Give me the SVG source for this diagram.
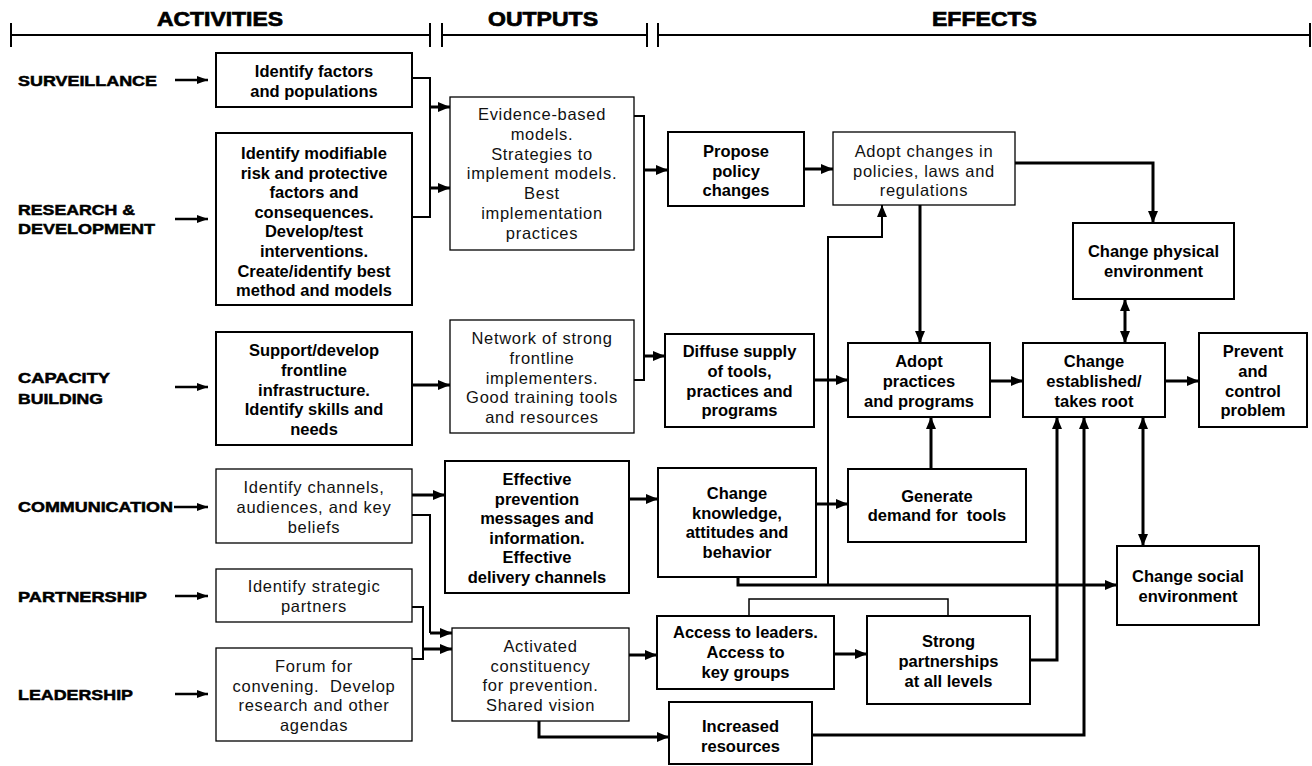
<svg xmlns="http://www.w3.org/2000/svg" width="1312" height="766" viewBox="0 0 1312 766">
  <style>
    .hd { font-family: "Liberation Sans", Arial, sans-serif; font-weight: bold; font-size: 20px; stroke: #000; stroke-width: 0.7; }
    .lb { font-family: "Liberation Sans", Arial, sans-serif; font-weight: bold; font-size: 15px; stroke: #000; stroke-width: 0.5; }
    .b { font-family: "Liberation Sans", Arial, sans-serif; font-weight: bold; font-size: 16.5px; text-anchor: middle; fill: #000; white-space: pre; }
    .r { font-family: "Liberation Sans", Arial, sans-serif; font-size: 16.5px; letter-spacing: 0.7px; text-anchor: middle; fill: #111; }
    .bx { fill: #fff; stroke: #000; stroke-width: 2; }
    .rx { fill: #fff; stroke: #000; stroke-width: 1.3; }
    .scale { fill: none; stroke: #000; stroke-width: 2; }
    .c { fill: none; stroke: #000; stroke-width: 3; }
    .m { fill: none; stroke: #000; stroke-width: 2; }
    .t { fill: none; stroke: #000; stroke-width: 1.5; }
    .a { marker-end: url(#ah); }
    .d { marker-start: url(#ahs); marker-end: url(#ah); }
    .la { fill: none; stroke: #000; stroke-width: 2.5; marker-end: url(#ahl); }
  </style>
  <defs>
    <marker id="ah" markerUnits="userSpaceOnUse" markerWidth="12" markerHeight="10" refX="12" refY="5" orient="auto">
      <path d="M0,0 L12,5 L0,10 z" fill="#000"/>
    </marker>
    <marker id="ahs" markerUnits="userSpaceOnUse" markerWidth="12" markerHeight="10" refX="12" refY="5" orient="auto-start-reverse">
      <path d="M0,0 L12,5 L0,10 z" fill="#000"/>
    </marker>
    <marker id="ahl" markerUnits="userSpaceOnUse" markerWidth="11" markerHeight="8" refX="11" refY="4" orient="auto">
      <path d="M0,0 L11,4 L0,8 z" fill="#000"/>
    </marker>
  </defs>

  <!-- column scale -->
  <g id="scale">
    <path class="scale" d="M11,35 H430 M11,23 V47 M430,23 V47 M442,35 H647 M442,23 V47 M647,23 V47 M658,35 H1310 M658,23 V47 M1310,23 V47"/>
    <text class="hd" x="157" y="26" textLength="126" lengthAdjust="spacingAndGlyphs">ACTIVITIES</text>
    <text class="hd" x="488" y="26" textLength="110" lengthAdjust="spacingAndGlyphs">OUTPUTS</text>
    <text class="hd" x="932" y="26" textLength="105" lengthAdjust="spacingAndGlyphs">EFFECTS</text>
  </g>

  <!-- row labels -->
  <g id="labels">
    <text class="lb" x="18" y="86" textLength="139" lengthAdjust="spacingAndGlyphs">SURVEILLANCE</text>
    <text class="lb" x="18" y="215" textLength="117" lengthAdjust="spacingAndGlyphs">RESEARCH &amp;</text>
    <text class="lb" x="18" y="234" textLength="137" lengthAdjust="spacingAndGlyphs">DEVELOPMENT</text>
    <text class="lb" x="18" y="383" textLength="92" lengthAdjust="spacingAndGlyphs">CAPACITY</text>
    <text class="lb" x="18" y="404" textLength="85" lengthAdjust="spacingAndGlyphs">BUILDING</text>
    <text class="lb" x="18" y="512" textLength="155" lengthAdjust="spacingAndGlyphs">COMMUNICATION</text>
    <text class="lb" x="18" y="602" textLength="129" lengthAdjust="spacingAndGlyphs">PARTNERSHIP</text>
    <text class="lb" x="18" y="700" textLength="115" lengthAdjust="spacingAndGlyphs">LEADERSHIP</text>
  </g>

  <!-- connectors -->
  <g id="connectors">
    <!-- label arrows -->
    <path class="la" d="M175,80 H208"/>
    <path class="la" d="M175,219 H208"/>
    <path class="la" d="M175,387 H208"/>
    <path class="la" d="M174,507 H208"/>
    <path class="la" d="M175,596 H208"/>
    <path class="la" d="M175,694 H208"/>

    <!-- activities to outputs -->
    <path class="m" d="M412,78 H430 V217 H412"/>
    <path class="c a" d="M430,107 H450"/>
    <path class="c a" d="M430,188 H450"/>
    <path class="c a" d="M412,385 H450"/>
    <path class="c a" d="M412,495 H445"/>
    <path class="m" d="M412,515 H430 V633"/>
    <path class="c a" d="M430,633 H452"/>
    <path class="m" d="M412,607 H423 V659 H412"/>
    <path class="c a" d="M423,649 H452"/>

    <!-- outputs to effects -->
    <path class="m" d="M634,116 H644 V380 H634"/>
    <path class="c a" d="M644,170 H668"/>
    <path class="c a" d="M644,356 H665"/>
    <path class="c a" d="M629,499 H658"/>
    <path class="c a" d="M629,655 H657"/>
    <path class="c a" d="M539,721 V737 H669"/>

    <!-- effects -->
    <path class="c a" d="M804,169 H833"/>
    <path class="c a" d="M1015,163 H1153 V223"/>
    <path class="c a" d="M920,205 V343"/>
    <path class="c d" d="M1125,299 V343"/>
    <path class="c a" d="M814,380 H848"/>
    <path class="c a" d="M990,381 H1023"/>
    <path class="c a" d="M1165,381 H1199"/>
    <path class="c a" d="M931,469 V417"/>
    <path class="c a" d="M816,504 H848"/>
    <path class="c a" d="M738,577 V585 H1117"/>
    <path class="m a" d="M828,585 V237 H882 V205"/>
    <path class="c d" d="M1143,417 V546"/>
    <path class="t" d="M749,616 V599 H948 V616"/>
    <path class="c a" d="M834,654 H867"/>
    <path class="c a" d="M1030,660 H1057 V417"/>
    <path class="c a" d="M812,735 H1084 V417"/>
  </g>

  <!-- activities -->
  <g id="a-surveillance">
    <rect class="bx" x="216" y="53" width="196" height="54"/>
    <text class="b" x="314" y="77">Identify factors</text>
    <text class="b" x="314" y="97">and populations</text>
  </g>
  <g id="a-research">
    <rect class="bx" x="216" y="133" width="196" height="172"/>
    <text class="b" x="314" y="159">Identify modifiable</text>
    <text class="b" x="314" y="178.6">risk and protective</text>
    <text class="b" x="314" y="198.2">factors and</text>
    <text class="b" x="314" y="217.8">consequences.</text>
    <text class="b" x="314" y="237.4">Develop/test</text>
    <text class="b" x="314" y="257">interventions.</text>
    <text class="b" x="314" y="276.6">Create/identify best</text>
    <text class="b" x="314" y="296.2">method and models</text>
  </g>
  <g id="a-capacity">
    <rect class="bx" x="216" y="332" width="196" height="113"/>
    <text class="b" x="314" y="356">Support/develop</text>
    <text class="b" x="314" y="375.8">frontline</text>
    <text class="b" x="314" y="395.6">infrastructure.</text>
    <text class="b" x="314" y="415.4">Identify skills and</text>
    <text class="b" x="314" y="435">needs</text>
  </g>
  <g id="a-communication">
    <rect class="rx" x="216" y="469" width="196" height="74"/>
    <text class="r" x="314" y="493">Identify channels,</text>
    <text class="r" x="314" y="513">audiences, and key</text>
    <text class="r" x="314" y="533">beliefs</text>
  </g>
  <g id="a-partnership">
    <rect class="rx" x="216" y="569" width="196" height="53"/>
    <text class="r" x="314" y="592">Identify strategic</text>
    <text class="r" x="314" y="612">partners</text>
  </g>
  <g id="a-leadership">
    <rect class="rx" x="216" y="648" width="196" height="93"/>
    <text class="r" x="314" y="672">Forum for</text>
    <text class="r" x="314" y="691.7" xml:space="preserve">convening.  Develop</text>
    <text class="r" x="314" y="711.4">research and other</text>
    <text class="r" x="314" y="731">agendas</text>
  </g>

  <!-- outputs -->
  <g id="o-models">
    <rect class="rx" x="450" y="97" width="184" height="153"/>
    <text class="r" x="542" y="120">Evidence-based</text>
    <text class="r" x="542" y="139.8">models.</text>
    <text class="r" x="542" y="159.6">Strategies to</text>
    <text class="r" x="542" y="179.4">implement models.</text>
    <text class="r" x="542" y="199.2">Best</text>
    <text class="r" x="542" y="219">implementation</text>
    <text class="r" x="542" y="238.8">practices</text>
  </g>
  <g id="o-network">
    <rect class="rx" x="450" y="320" width="184" height="113"/>
    <text class="r" x="542" y="344">Network of strong</text>
    <text class="r" x="542" y="363.8">frontline</text>
    <text class="r" x="542" y="383.6">implementers.</text>
    <text class="r" x="542" y="403.4">Good training tools</text>
    <text class="r" x="542" y="423.2">and resources</text>
  </g>
  <g id="o-messages">
    <rect class="bx" x="445" y="461" width="184" height="132"/>
    <text class="b" x="537" y="485">Effective</text>
    <text class="b" x="537" y="504.6">prevention</text>
    <text class="b" x="537" y="524.2">messages and</text>
    <text class="b" x="537" y="543.8">information.</text>
    <text class="b" x="537" y="563.4">Effective</text>
    <text class="b" x="537" y="583">delivery channels</text>
  </g>
  <g id="o-constituency">
    <rect class="rx" x="452" y="628" width="177" height="93"/>
    <text class="r" x="540.5" y="652">Activated</text>
    <text class="r" x="540.5" y="671.7">constituency</text>
    <text class="r" x="540.5" y="691.4">for prevention.</text>
    <text class="r" x="540.5" y="711">Shared vision</text>
  </g>

  <!-- effects -->
  <g id="e-propose">
    <rect class="bx" x="668" y="132" width="136" height="74"/>
    <text class="b" x="736" y="157">Propose</text>
    <text class="b" x="736" y="176.5">policy</text>
    <text class="b" x="736" y="196">changes</text>
  </g>
  <g id="e-adopt-policies">
    <rect class="rx" x="833" y="132" width="182" height="73"/>
    <text class="r" x="924" y="157">Adopt changes in</text>
    <text class="r" x="924" y="176.5">policies, laws and</text>
    <text class="r" x="924" y="196">regulations</text>
  </g>
  <g id="e-physical">
    <rect class="bx" x="1073" y="223" width="161" height="76"/>
    <text class="b" x="1153.5" y="257">Change physical</text>
    <text class="b" x="1153.5" y="277">environment</text>
  </g>
  <g id="e-diffuse">
    <rect class="bx" x="665" y="334" width="149" height="93"/>
    <text class="b" x="739.5" y="357">Diffuse supply</text>
    <text class="b" x="739.5" y="376.8">of tools,</text>
    <text class="b" x="739.5" y="396.6">practices and</text>
    <text class="b" x="739.5" y="416.4">programs</text>
  </g>
  <g id="e-adopt-practices">
    <rect class="bx" x="848" y="343" width="142" height="74"/>
    <text class="b" x="919" y="367">Adopt</text>
    <text class="b" x="919" y="387">practices</text>
    <text class="b" x="919" y="407">and programs</text>
  </g>
  <g id="e-established">
    <rect class="bx" x="1023" y="343" width="142" height="74"/>
    <text class="b" x="1094" y="367">Change</text>
    <text class="b" x="1094" y="387">established/</text>
    <text class="b" x="1094" y="407">takes root</text>
  </g>
  <g id="e-prevent">
    <rect class="bx" x="1199" y="333" width="108" height="94"/>
    <text class="b" x="1253" y="357">Prevent</text>
    <text class="b" x="1253" y="376.8">and</text>
    <text class="b" x="1253" y="396.6">control</text>
    <text class="b" x="1253" y="416.4">problem</text>
  </g>
  <g id="e-demand">
    <rect class="bx" x="848" y="469" width="178" height="73"/>
    <text class="b" x="937" y="502">Generate</text>
    <text class="b" x="937" y="521" xml:space="preserve">demand for  tools</text>
  </g>
  <g id="e-knowledge">
    <rect class="bx" x="658" y="468" width="158" height="109"/>
    <text class="b" x="737" y="499">Change</text>
    <text class="b" x="737" y="518.7">knowledge,</text>
    <text class="b" x="737" y="538.4">attitudes and</text>
    <text class="b" x="737" y="558">behavior</text>
  </g>
  <g id="e-social">
    <rect class="bx" x="1117" y="546" width="142" height="79"/>
    <text class="b" x="1188" y="582">Change social</text>
    <text class="b" x="1188" y="602">environment</text>
  </g>
  <g id="e-access">
    <rect class="bx" x="657" y="616" width="177" height="73"/>
    <text class="b" x="745.5" y="638">Access to leaders.</text>
    <text class="b" x="745.5" y="658">Access to</text>
    <text class="b" x="745.5" y="678">key groups</text>
  </g>
  <g id="e-partnerships">
    <rect class="bx" x="867" y="616" width="163" height="88"/>
    <text class="b" x="948.5" y="647">Strong</text>
    <text class="b" x="948.5" y="667">partnerships</text>
    <text class="b" x="948.5" y="687">at all levels</text>
  </g>
  <g id="e-resources">
    <rect class="bx" x="669" y="702" width="143" height="62"/>
    <text class="b" x="740.5" y="732">Increased</text>
    <text class="b" x="740.5" y="752">resources</text>
  </g>
</svg>
